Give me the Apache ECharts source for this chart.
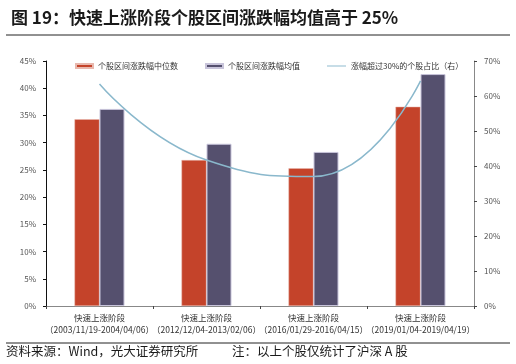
<!DOCTYPE html>
<html><head><meta charset="utf-8">
<script src="https://cdn.jsdelivr.net/npm/echarts@6/dist/echarts.min.js"></script>
<style>html,body{margin:0;padding:0;background:#fff}#c{width:516px;height:364px}</style>
</head><body><div id="c"></div>
<script>
const categories = ['快速上涨阶段\n（2003/11/19-2004/04/06）','快速上涨阶段\n（2012/12/04-2013/02/06）','快速上涨阶段\n（2016/01/29-2016/04/15）','快速上涨阶段\n（2019/01/04-2019/04/19）'];
const medianVals = [34.3, 26.8, 25.3, 36.6];
const meanVals = [36.2, 29.8, 28.3, 42.6];
const shareVals = [63.4, 41.7, 37.0, 64.3];
const leftTicks = {min:0, max:45, interval:5};
const rightTicks = {min:0, max:70, interval:10};
const FONT = '"Noto Sans CJK SC", sans-serif';
const legendText = {fontSize:8, color:'#333', fontFamily:FONT};
const chart = echarts.init(document.getElementById('c'));
chart.setOption({
  animation:false,
  textStyle:{fontFamily:FONT},
  title:{text:'图 19：快速上涨阶段个股区间涨跌幅均值高于 25%', left:6, top:4,
    textStyle:{fontFamily:FONT, fontSize:17, fontWeight:'bold', color:'#1a1a1a'}},
  graphic:[
    {type:'line', shape:{x1:6,y1:35,x2:510,y2:35}, style:{stroke:'#222', lineWidth:1}},
    {type:'line', shape:{x1:6,y1:343,x2:510,y2:343}, style:{stroke:'#222', lineWidth:1}},
    {type:'text', left:6, top:345, style:{text:'资料来源：Wind，光大证券研究所', font:'12.5px '+FONT, fill:'#1a1a1a'}},
    {type:'text', left:232, top:345, style:{text:'注：以上个股仅统计了沪深 A 股', font:'12.5px '+FONT, fill:'#1a1a1a'}}
  ],
  legend:[
    {top:57, left:70, itemWidth:17, itemHeight:4, itemGap:4, textStyle:legendText,
      data:[{name:'个股区间涨跌幅中位数', icon:'rect'}]},
    {top:57, left:200, itemWidth:17, itemHeight:4, textStyle:legendText,
      data:[{name:'个股区间涨跌幅均值', icon:'rect'}]},
    {top:57, left:322, itemWidth:19, itemHeight:4, textStyle:legendText,
      data:[{name:'涨幅超过30%的个股占比（右）', icon:'path://M0,1.5H20V2.5H0Z'}]}
  ],
  grid:{left:46, right:42, top:61, bottom:58},
  xAxis:{type:'category', data:categories,
    axisLine:{lineStyle:{color:'#888'}}, axisTick:{show:true, length:3, lineStyle:{color:'#444'}},
    axisLabel:{fontSize:8.5, color:'#333', lineHeight:12, margin:6, interval:0}},
  yAxis:[
    {type:'value', min:leftTicks.min, max:leftTicks.max, interval:leftTicks.interval,
      splitLine:{show:false}, axisLine:{show:true, lineStyle:{color:'#111'}},
      axisTick:{show:true, length:3, lineStyle:{color:'#111'}},
      axisLabel:{formatter:'{value}%', fontSize:8, color:'#555', margin:10}},
    {type:'value', min:rightTicks.min, max:rightTicks.max, interval:rightTicks.interval,
      splitLine:{show:false}, axisLine:{show:true, lineStyle:{color:'#888'}},
      axisTick:{show:true, length:3, inside:false, lineStyle:{color:'#444'}},
      axisLabel:{formatter:'{value}%', fontSize:8, color:'#555', margin:10}}
  ],
  series:[
    {name:'个股区间涨跌幅中位数', type:'bar', data:medianVals, barWidth:25, barGap:'0%',
      itemStyle:{color:'#C4432A', borderColor:'#E8B8AE', borderWidth:0.5}},
    {name:'个股区间涨跌幅均值', type:'bar', data:meanVals, barWidth:25,
      itemStyle:{color:'#55506E', borderColor:'#C8C4DA', borderWidth:1}},
    {name:'涨幅超过30%的个股占比（右）', type:'line', yAxisIndex:1, data:shareVals, smooth:0.5,
      symbol:'none', lineStyle:{color:'#8AB8CC', width:1.5}, itemStyle:{color:'#8AB8CC'}, z:5}
  ]
});
</script></body></html>
